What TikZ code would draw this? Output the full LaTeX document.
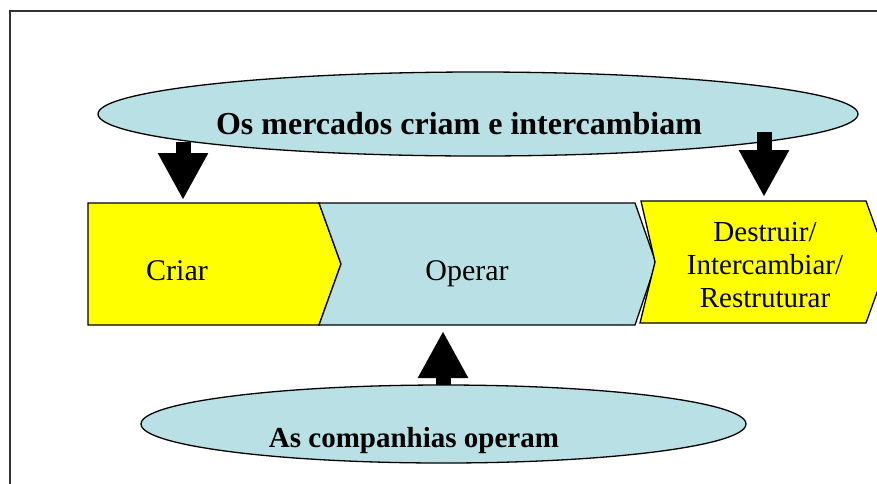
\documentclass[tikz,border=0pt]{standalone}
\usepackage{fontspec}
\setmainfont{Liberation Serif}
\usetikzlibrary{shapes.geometric,arrows.meta}
\definecolor{paleteal}{RGB}{185,224,228}
\definecolor{canary}{RGB}{255,255,0}

\begin{document}
\begin{tikzpicture}[x=1pt,y=-1pt,
  chevron/.style={draw=black,line width=1.3pt,line join=miter},
  oval/.style={ellipse,draw=black,line width=1.3pt,fill=paleteal,inner sep=0pt},
  blockarrow/.style={line width=15pt,-{Triangle[length=47pt,width=47pt]}},
  boldlabel/.style={font=\fontsize{32}{36}\selectfont\bfseries,inner sep=0pt},
  steplabel/.style={font=\fontsize{30}{33}\selectfont,inner sep=0pt}]
\useasboundingbox (0,0) rectangle (877,483);
\draw[line width=1.3pt,draw=black!80] (10,11) rectangle (900,520);

% markets
\node[oval,minimum width=760pt,minimum height=84pt] (mercados) at (478,114) {};
\node[boldlabel,anchor=base] (mercadostxt) at (459,134) {Os mercados criam e intercambiam};

% the three steps
\draw[chevron,fill=canary] (88,203) -- (319,203) -- (341,264) -- (319,325) -- (88,325) -- cycle;
\draw[chevron,fill=paleteal] (319,203) -- (635,203) -- (656,263) -- (635,325) -- (319,325) -- (341,264) -- cycle;
\draw[chevron,fill=canary] (641,201) -- (866,201) -- (888,262) -- (866,323) -- (640,323) -- (655,262) -- cycle;
\node[steplabel,anchor=base] (criar) at (177,280) {Criar};
\node[steplabel,anchor=base] (operar) at (467,280) {Operar};
\node[steplabel,font=\fontsize{29}{33}\selectfont,align=center] (destruir) at (765,265) {Destruir/\\Intercambiar/\\Restruturar};

% arrows
\coordinate (criarin) at (183,142);
\coordinate (criartop) at (183,200);
\coordinate (destruirin) at (764,132);
\coordinate (destruirtop) at (764,197);
\draw[blockarrow] (criarin) -- (criartop);
\draw[blockarrow] (destruirin) -- (destruirtop);
\coordinate (operarbot) at (443,331);
\coordinate (companhiasin) at (443,386);
\draw[blockarrow] (companhiasin) -- (operarbot);

% companies
\node[oval,minimum width=605pt,minimum height=78pt] (companhias) at (443.5,424) {};
\node[boldlabel,font=\fontsize{29}{33}\selectfont\bfseries,anchor=base] (companhiastxt) at (414,447) {As companhias operam};
\end{tikzpicture}
\end{document}
